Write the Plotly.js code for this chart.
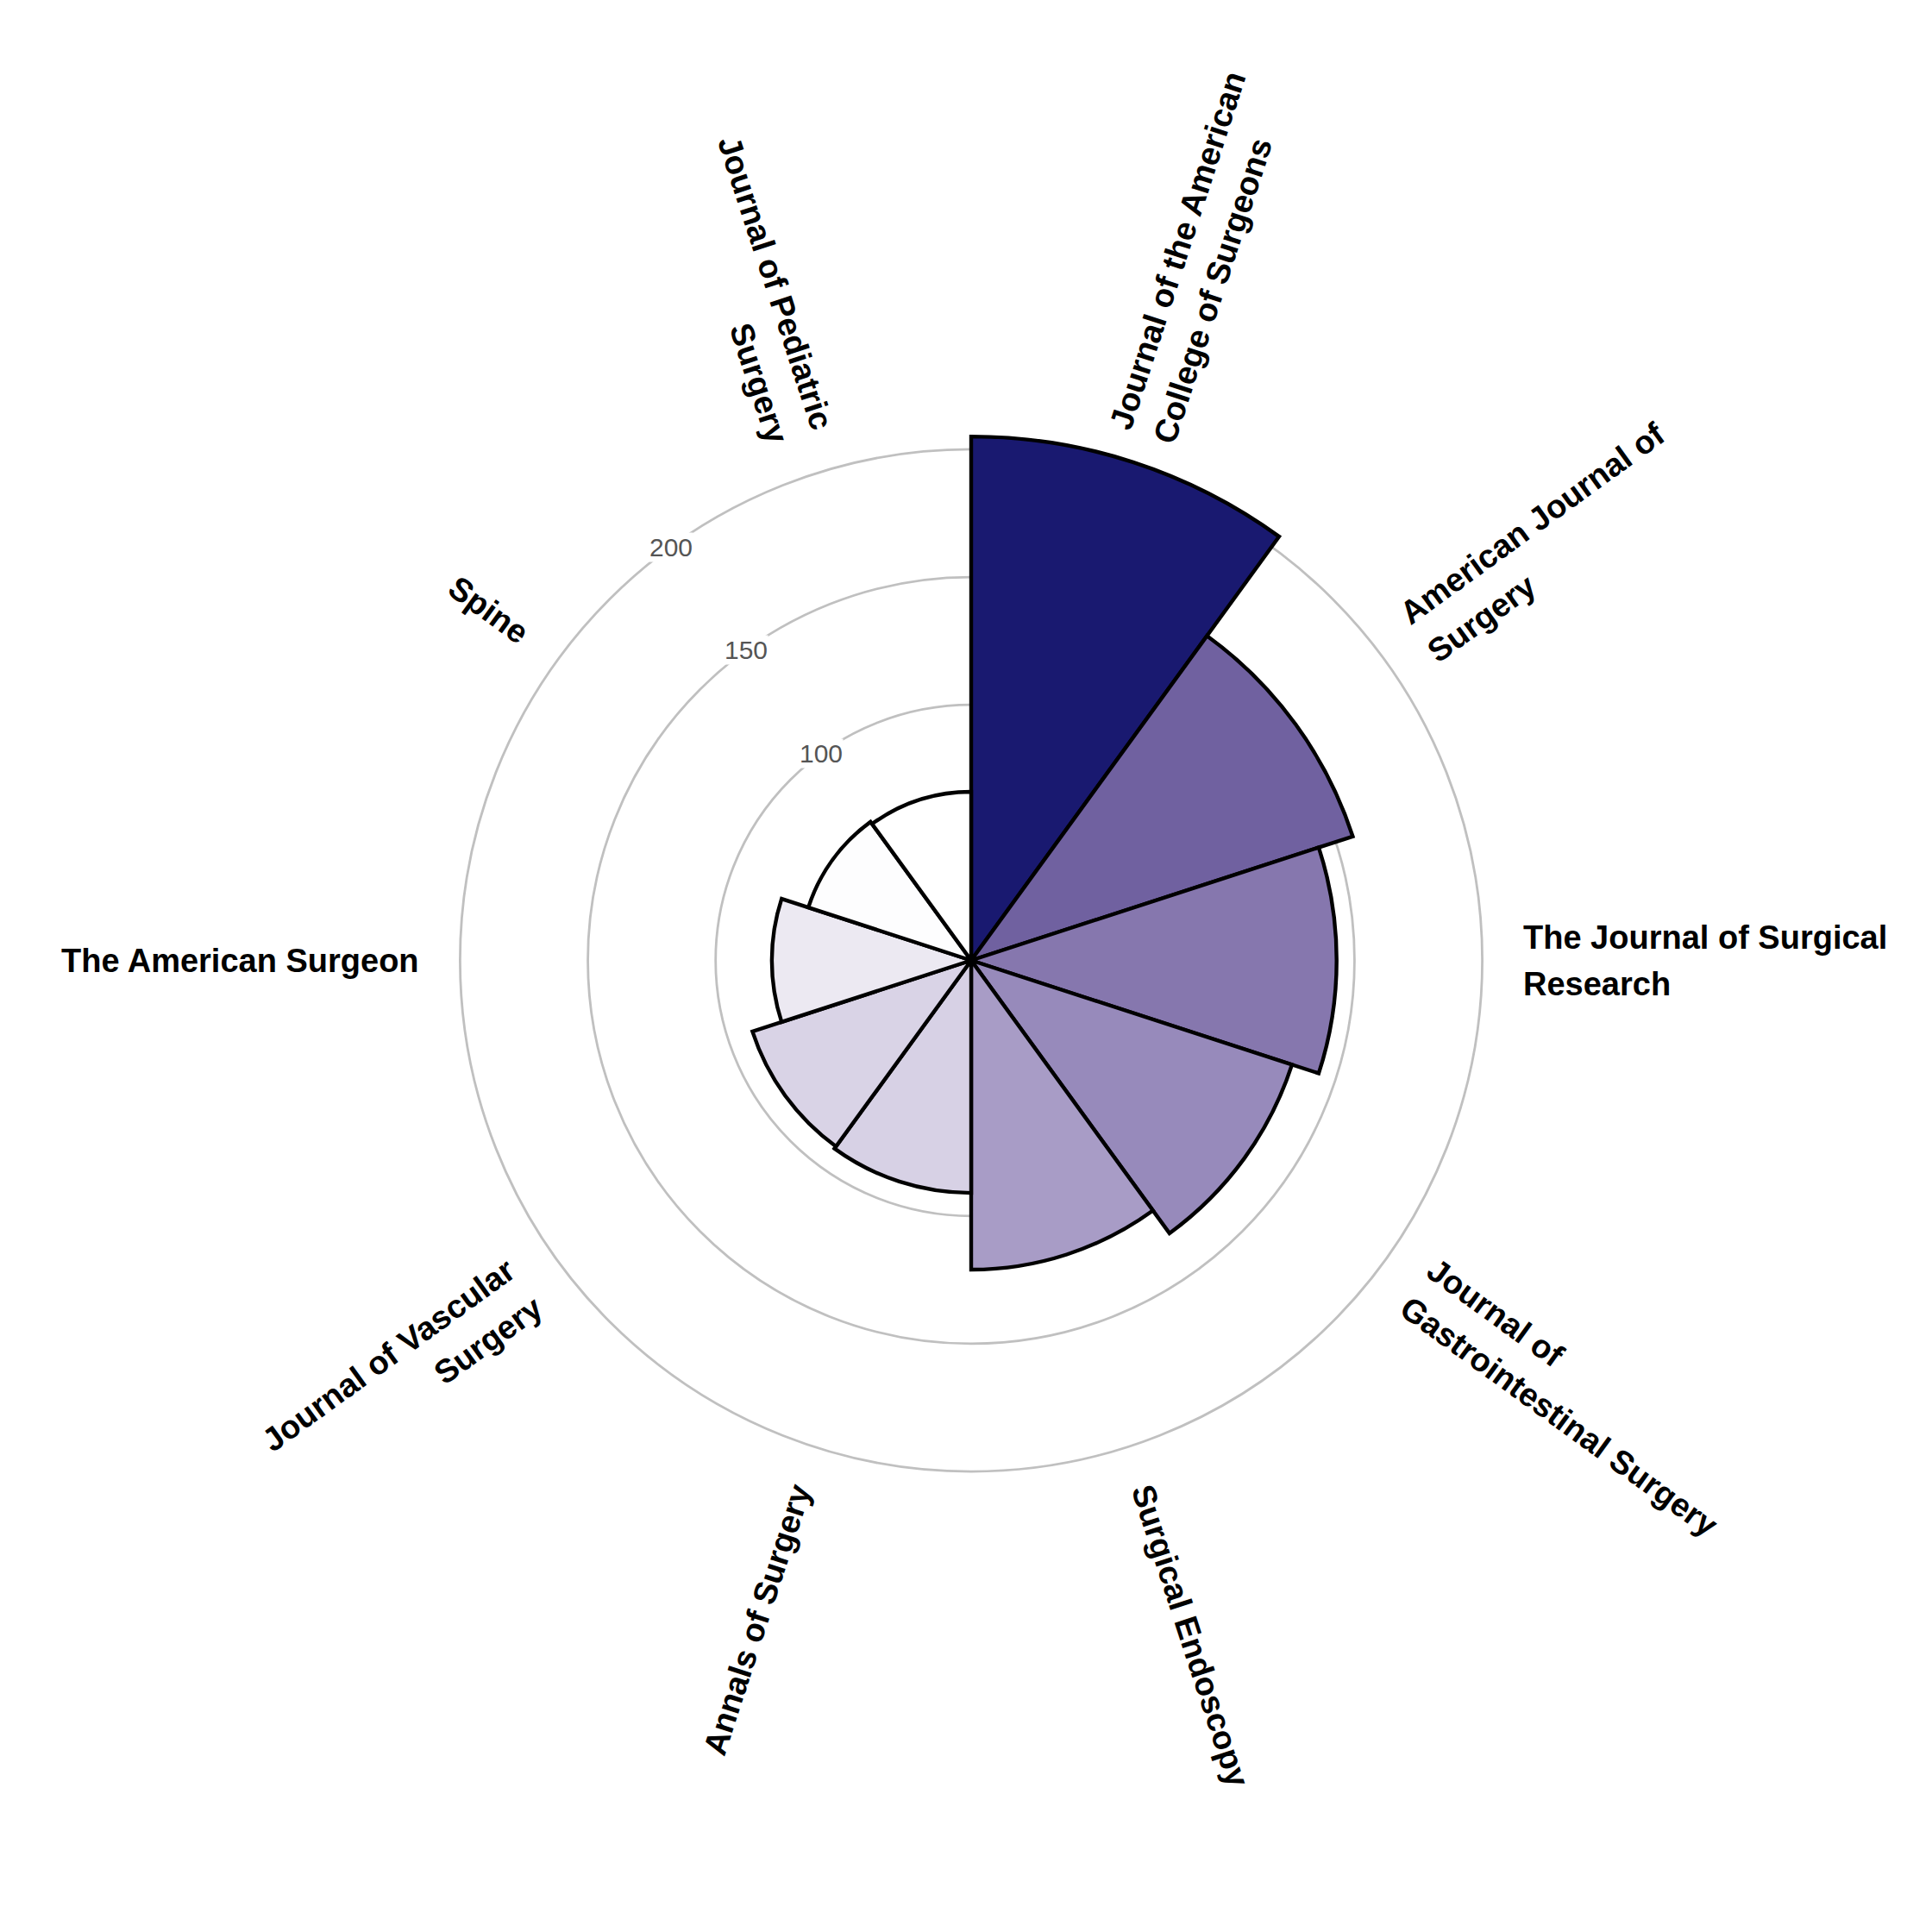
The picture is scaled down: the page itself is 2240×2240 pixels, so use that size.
<!DOCTYPE html>
<html>
<head>
<meta charset="utf-8">
<script src="https://cdn.plot.ly/plotly-3.0.1.min.js"></script>
<style>html,body{margin:0;padding:0;background:#ffffff;}</style>
</head>
<body>
<div id="chart" style="width:2240px;height:2240px;"></div>
<script>
// ---------------- data ----------------
const journals = [
  "Journal of the American College of Surgeons",
  "American Journal of Surgery",
  "The Journal of Surgical Research",
  "Journal of Gastrointestinal Surgery",
  "Surgical Endoscopy",
  "Annals of Surgery",
  "Journal of Vascular Surgery",
  "The American Surgeon",
  "Spine",
  "Journal of Pediatric Surgery"
];
const labelLines = [
  ["Journal of the American", "College of Surgeons"],
  ["American Journal of", "Surgery"],
  ["The Journal of Surgical", "Research"],
  ["Journal of", "Gastrointestinal Surgery"],
  ["Surgical Endoscopy"],
  ["Annals of Surgery"],
  ["Journal of Vascular", "Surgery"],
  ["The American Surgeon"],
  ["Spine"],
  ["Journal of Pediatric", "Surgery"]
];
const counts = [205, 157, 143, 132, 121, 91, 90, 78, 67, 66];
const radialTicks = [100, 150, 200];
const radialTickText = ["100", "150", "200"];

// ---------------- style ----------------
const W = 2240, H = 2240;
const CX = 1126, CY = 1113.5;      // centre of the polar plot (px from top-left)
const R_MAX = 216;                 // radial range max (labels sit here)
const R_PX = 640;                  // pixel radius of R_MAX
const PPU = R_PX / R_MAX;
const LOW = "#ffffff", HIGH = "#191970";
const LABEL_FONT = {family: "Liberation Sans, Arial, sans-serif", size: 38, color: "#000000", weight: "bold"};
const LINE_GAP = 54;
const TICK_ANGLE = 324;            // clockwise from north

// Lab interpolation (white -> midnightblue)
function lin(c){ c/=255; return c<=0.04045 ? c/12.92 : Math.pow((c+0.055)/1.055, 2.4); }
function gam(c){ c = c<=0.0031308 ? 12.92*c : 1.055*Math.pow(c,1/2.4)-0.055; return Math.max(0, Math.min(255, Math.round(c*255))); }
function toLab(hex){
  const R=lin(parseInt(hex.slice(1,3),16)), G=lin(parseInt(hex.slice(3,5),16)), B=lin(parseInt(hex.slice(5,7),16));
  const X=(0.4124564*R+0.3575761*G+0.1804375*B)/0.95047;
  const Y=(0.2126729*R+0.7151522*G+0.0721750*B);
  const Z=(0.0193339*R+0.1191920*G+0.9503041*B)/1.08883;
  const f=t=> t>0.008856 ? Math.cbrt(t) : 7.787*t+16/116;
  const fx=f(X), fy=f(Y), fz=f(Z);
  return [116*fy-16, 500*(fx-fy), 200*(fy-fz)];
}
function fromLab(L,a,b){
  const fy=(L+16)/116, fx=fy+a/500, fz=fy-b/200;
  const fi=t=> t*t*t>0.008856 ? t*t*t : (t-16/116)/7.787;
  const X=fi(fx)*0.95047, Y=fi(fy), Z=fi(fz)*1.08883;
  const R= 3.2404542*X-1.5371385*Y-0.4985314*Z;
  const G=-0.9692660*X+1.8760108*Y+0.0415560*Z;
  const B= 0.0556434*X-0.2040259*Y+1.0572252*Z;
  return "rgb(" + gam(R) + "," + gam(G) + "," + gam(B) + ")";
}
const labLo = toLab(LOW), labHi = toLab(HIGH);
const colorscale = [];
for (let k = 0; k <= 20; k++) {
  const t = k/20;
  colorscale.push([t, fromLab(labLo[0]+(labHi[0]-labLo[0])*t, labLo[1]+(labHi[1]-labLo[1])*t, labLo[2]+(labHi[2]-labLo[2])*t)]);
}

// ---------------- trace ----------------
const n = journals.length;
const trace = {
  type: "barpolar",
  r: counts,
  theta: journals,
  marker: {
    color: counts,
    colorscale: colorscale,
    cmin: Math.min(...counts),
    cmax: Math.max(...counts),
    showscale: false,
    line: {color: "#000000", width: 4.4}
  },
  hoverinfo: "skip",
  showlegend: false
};

// ---------------- labels ----------------
const canvas = document.createElement("canvas");
const ctx = canvas.getContext("2d");
ctx.font = "bold " + LABEL_FONT.size + "px 'Liberation Sans'";

const annotations = [];
labelLines.forEach((lines, i) => {
  const ang = (i + 0.5) * 360 / n;             // clockwise from north
  const rad = ang * Math.PI / 180;
  const dir = [Math.sin(rad), -Math.cos(rad)];
  const right = ang < 180;
  const a = right ? ang - 90 : ang - 270;
  const ar = a * Math.PI / 180;
  const u = [Math.cos(ar), Math.sin(ar)];
  const v = [-Math.sin(ar), Math.cos(ar)];
  const p0 = [CX + R_MAX*PPU*dir[0], CY + R_MAX*PPU*dir[1]];
  const s = right ? 1 : -1;
  lines.forEach((txt, k) => {
    const off = (k - (lines.length - 1) / 2) * LINE_GAP;
    const w = ctx.measureText(txt).width;
    const px = p0[0] + off*v[0] + s*(w/2)*u[0];
    const py = p0[1] + off*v[1] + s*(w/2)*u[1];
    annotations.push({
      xref: "paper", yref: "paper", x: px / W, y: 1 - py / H,
      xanchor: "center", yanchor: "middle",
      text: txt, textangle: a, showarrow: false,
      font: LABEL_FONT
    });
  });
});

// radial tick labels
radialTicks.forEach((val, k) => {
  const rad = TICK_ANGLE * Math.PI / 180;
  const px = CX + val*PPU*Math.sin(rad);
  const py = CY - val*PPU*Math.cos(rad);
  annotations.push({
    xref: "paper", yref: "paper", x: px / W, y: 1 - py / H,
    xanchor: "center", yanchor: "middle",
    text: radialTickText[k], showarrow: false,
    bgcolor: "#ffffff", borderpad: 0,
    font: {family: "Liberation Sans, Arial, sans-serif", size: 30, color: "#555555"}
  });
});

const layout = {
  width: W, height: H,
  margin: {l: 0, r: 0, t: 0, b: 0},
  paper_bgcolor: "#ffffff",
  showlegend: false,
  font: {family: "Liberation Sans, Arial, sans-serif"},
  polar: {
    domain: {x: [(CX - R_PX)/W, (CX + R_PX)/W], y: [(H - CY - R_PX)/H, (H - CY + R_PX)/H]},
    bgcolor: "rgba(0,0,0,0)",
    bargap: 0,
    angularaxis: {
      rotation: 90 - 180/n, direction: "clockwise",
      showgrid: false, showline: false, showticklabels: false, ticks: ""
    },
    radialaxis: {
      range: [0, R_MAX], tickvals: radialTicks,
      showticklabels: false, ticks: "", showline: false,
      showgrid: true, gridcolor: "#c0c0c0", gridwidth: 2.8
    }
  },
  annotations: annotations
};

Plotly.newPlot("chart", [trace], layout, {displayModeBar: false, staticPlot: true});
</script>
</body>
</html>
